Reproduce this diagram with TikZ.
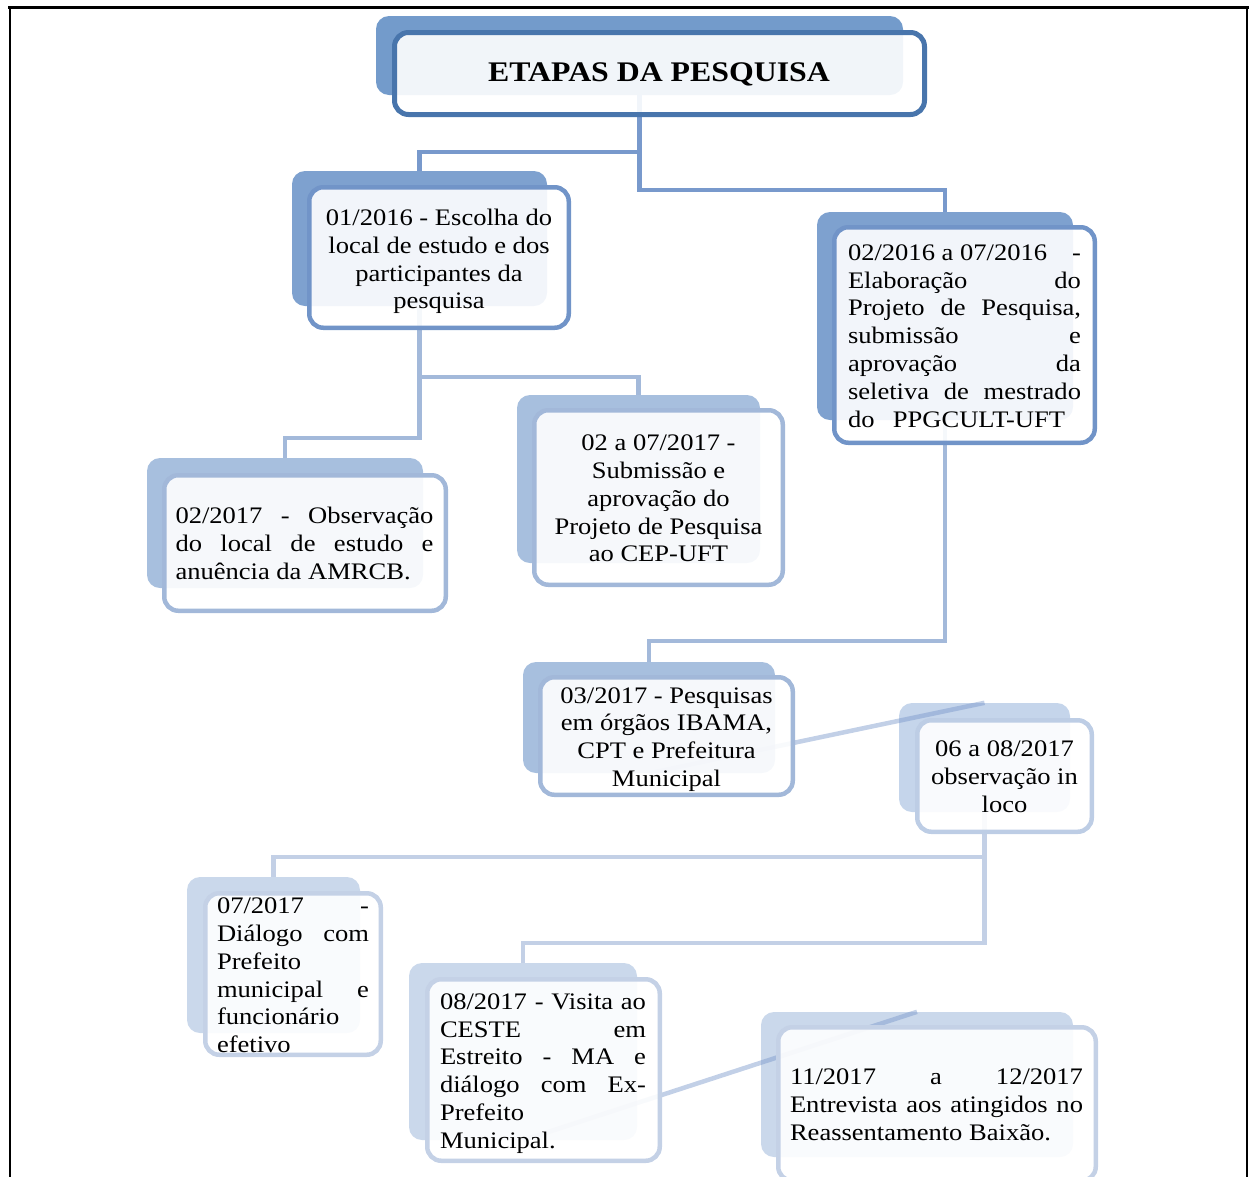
\documentclass[tikz,border=0pt]{standalone}
\usepackage{fontspec}
\setmainfont{Liberation Serif}[FakeStretch=1.12]
\definecolor{tback}{HTML}{739BCB}
\definecolor{tline}{HTML}{4875AC}
\definecolor{aback}{HTML}{7EA1CF}
\definecolor{aline}{HTML}{7194C8}
\definecolor{acon}{HTML}{7899CC}
\definecolor{bback}{HTML}{A7BFDE}
\definecolor{bline}{HTML}{A2B8D9}
\definecolor{bcon}{HTML}{A3B9DA}
\definecolor{cback}{HTML}{C5D5EB}
\definecolor{cline}{HTML}{BDCDE5}
\definecolor{dback}{HTML}{CAD8EB}
\definecolor{dline}{HTML}{C4D1E6}
\definecolor{dcon}{HTML}{C3D0E6}
\definecolor{diagc}{HTML}{7896CA}
\newcommand\jl[2]{\makebox[#1][s]{#2}}
\begin{document}
\begin{tikzpicture}[x=1pt,y=-1pt,
  bgbox/.style={rectangle, rounded corners=13pt, inner sep=0pt, draw=none},
  fgbox/.style={rectangle, rounded corners=14pt, inner sep=0pt, line width=4.5pt, fill=white, fill opacity=0.9},
  txtbox/.style={inner sep=0pt, font=\fontsize{23.7}{27.8}\selectfont},
  conline/.style={line width=4.5pt},
  diagline/.style={line width=4.5pt, draw=diagc, draw opacity=0.45},
]
\useasboundingbox (0,0) rectangle (1250,1176);
\clip (0,0) rectangle (1250,1176);

% frame
\draw[line width=3pt] (8,7.5) -- (1249,7.5);
\draw[line width=2pt] (10,7.5) -- (10,1180);
\draw[line width=2pt] (1247,7.5) -- (1247,1180);

% back rectangles
\node[bgbox, fill=tback, minimum width=527pt, minimum height=79pt] (b0) at (639.5,55.5) {};
\node[bgbox, fill=aback, minimum width=255pt, minimum height=135pt] (b1) at (419.5,238.5) {};
\node[bgbox, fill=aback, minimum width=256pt, minimum height=208pt] (b2) at (945,316) {};
\node[bgbox, fill=bback, minimum width=276pt, minimum height=130pt] (b3) at (285,523) {};
\node[bgbox, fill=bback, minimum width=243pt, minimum height=168pt] (b4) at (638.5,479) {};
\node[bgbox, fill=bback, minimum width=252pt, minimum height=111pt] (b5) at (649,717.5) {};
\node[bgbox, fill=cback, minimum width=171pt, minimum height=109pt] (b6) at (984.5,757.5) {};
\node[bgbox, fill=dback, minimum width=173pt, minimum height=156pt] (b7) at (273.5,955) {};
\node[bgbox, fill=dback, minimum width=228pt, minimum height=177pt] (b8) at (523,1051.5) {};
\node[bgbox, fill=dback, minimum width=312pt, minimum height=145pt] (b9) at (917,1084.5) {};

% connectors
\draw[conline, acon] (b0.south) -- ++(0,57) -| (b1.north);
\draw[conline, acon] (b0.south) -- ++(0,95) -| (b2.north);
\draw[conline, bcon] (b1.south) -- ++(0,71) -| (b4.north);
\draw[conline, bcon] (b1.south) -- ++(0,132) -| (b3.north);
\draw[conline, bcon] (b2.south) -- ++(0,221) -| (b5.north);
\draw[diagline] (b5.south) -- (b6.north);
\draw[conline, dcon] (b6.south) -- ++(0,45) -| (b7.north);
\draw[conline, dcon] (b6.south) -- ++(0,131) -| (b8.north);
\draw[diagline] (b8.south) -- (b9.north);

% front boxes
\node[fgbox, draw=tline, line width=5pt, minimum width=530pt, minimum height=82pt] (f0) at (659.5,73.5) {};
\node[fgbox, draw=aline, minimum width=259.5pt, minimum height=140.5pt] (f1) at (439,257.5) {};
\node[fgbox, draw=aline, minimum width=260.5pt, minimum height=215.5pt] (f2) at (964.5,335) {};
\node[fgbox, draw=bline, minimum width=281.5pt, minimum height=135.5pt] (f3) at (305,543) {};
\node[fgbox, draw=bline, minimum width=248.5pt, minimum height=174.5pt] (f4) at (658.5,497.5) {};
\node[fgbox, draw=bline, minimum width=252.5pt, minimum height=117.5pt] (f5) at (666.5,736) {};
\node[fgbox, draw=cline, minimum width=174.5pt, minimum height=111.5pt] (f6) at (1004.5,776) {};
\node[fgbox, draw=dline, minimum width=175.5pt, minimum height=161.5pt] (f7) at (293,974) {};
\node[fgbox, draw=dline, minimum width=232.5pt, minimum height=181.5pt] (f8) at (543.5,1070) {};
\node[fgbox, draw=dline, minimum width=317.5pt, minimum height=153.5pt] (f9) at (937,1104) {};

% texts
\node[inner sep=0pt, font=\bfseries\fontsize{28.4}{32}\selectfont] (t0) at (659,74.5) {ETAPAS DA PESQUISA};
\node[txtbox, align=center] (t1) at (439,261.5) {01/2016 - Escolha do\\local de estudo e dos\\participantes da\\pesquisa};
\node[txtbox, align=left] (t2) at (964.5,336) {\jl{233pt}{02/2016 a 07/2016\hfill-}\\\jl{233pt}{Elaboração do}\\\jl{233pt}{Projeto de Pesquisa,}\\\jl{233pt}{submissão e}\\\jl{233pt}{aprovação da}\\\jl{233pt}{seletiva de mestrado}\\\jl{217pt}{do PPGCULT-UFT}};
\node[txtbox, align=left] (t3) at (304.5,543.5) {\jl{258pt}{02/2017 - Observação}\\\jl{258pt}{do local de estudo e}\\anuência da AMRCB.};
\node[txtbox, align=center] (t4) at (658.5,498.5) {02 a 07/2017 -\\Submissão e\\aprovação do\\Projeto de Pesquisa\\ao CEP-UFT};
\node[txtbox, align=center] (t5) at (666.5,739.5) {03/2017 - Pesquisas\\em órgãos IBAMA,\\CPT e Prefeitura\\Municipal};
\node[txtbox, align=center] (t6) at (1004.5,777) {06 a 08/2017\\observação in\\loco};
\node[txtbox, align=left] (t7) at (293,975.5) {\jl{152pt}{07/2017 -}\\\jl{152pt}{Diálogo com}\\Prefeito\\\jl{152pt}{municipal e}\\funcionário\\efetivo};
\node[txtbox, align=left] (t8) at (543,1073.5) {\jl{206pt}{08/2017 - Visita ao}\\\jl{206pt}{CESTE em}\\\jl{206pt}{Estreito - MA e}\\\jl{206pt}{diálogo com Ex-}\\Prefeito\\Municipal.};
\node[txtbox, align=left] (t9) at (936.5,1104.5) {\jl{293pt}{11/2017 a 12/2017}\\\jl{293pt}{Entrevista aos atingidos no}\\Reassentamento Baixão.};
\end{tikzpicture}
\end{document}
